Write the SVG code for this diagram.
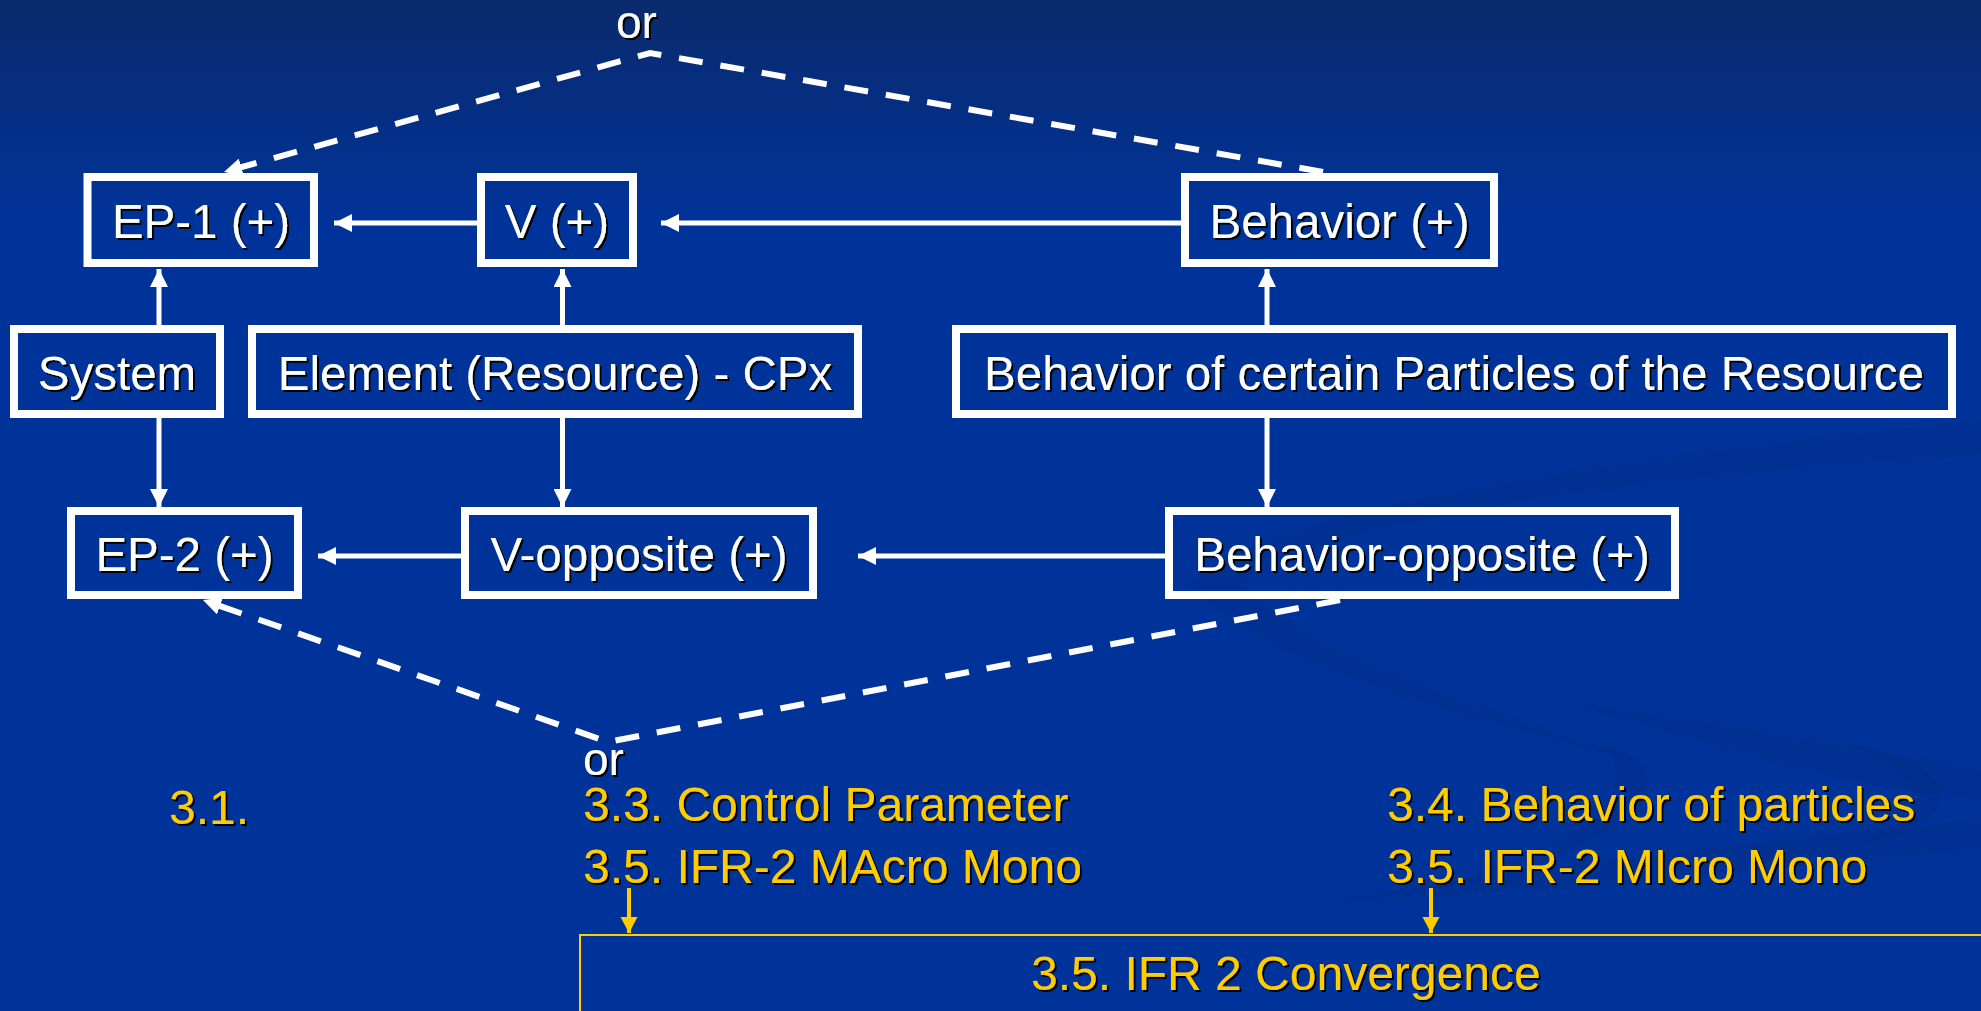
<svg xmlns="http://www.w3.org/2000/svg" width="1981" height="1011" viewBox="0 0 1981 1011">
  <defs>
    <linearGradient id="bg" x1="0" y1="0" x2="0" y2="1">
      <stop offset="0" stop-color="#0a2a6c"/>
      <stop offset="0.22" stop-color="#003399"/>
      <stop offset="1" stop-color="#003399"/>
    </linearGradient>
    <filter id="shadow" x="-5%" y="-20%" width="110%" height="140%">
      <feDropShadow dx="2" dy="2" stdDeviation="0" flood-color="#000000" flood-opacity="1"/>
    </filter>
    <marker id="head" markerUnits="userSpaceOnUse" markerWidth="20" markerHeight="18" refX="18" refY="9" orient="auto">
      <path d="M0,0 L18,9 L0,18 Z" fill="#ffffff"/>
    </marker>
    <marker id="headY" markerUnits="userSpaceOnUse" markerWidth="18" markerHeight="18" refX="16" refY="9" orient="auto">
      <path d="M0,0.5 L16,9 L0,17.5 Z" fill="#ffcc00"/>
    </marker>
    <style>
      .box { fill: none; stroke: #ffffff; stroke-width: 8; }
      .lbl { font-family: "Liberation Sans", Arial, sans-serif; font-size: 47.5px; fill: #ffffff; text-anchor: middle; }
      .or { font-family: "Liberation Sans", Arial, sans-serif; font-size: 46px; fill: #ffffff; }
      .note { font-family: "Liberation Sans", Arial, sans-serif; font-size: 48px; fill: #ffcc00; }
      .link { fill: none; stroke: #ffffff; stroke-width: 5; marker-end: url(#head); }
      .dash { fill: none; stroke: #ffffff; stroke-width: 6; stroke-dasharray: 24 18; marker-end: url(#head); }
      .ylink { fill: none; stroke: #ffcc00; stroke-width: 4; marker-end: url(#headY); }
      .swoosh { fill: #002a85; opacity: 0.35; }
    </style>
  </defs>

  <!-- backdrop -->
  <rect x="0" y="0" width="1981" height="1011" fill="url(#bg)"/>
  <g id="backdrop-swooshes">
    <path class="swoosh" d="M1190,585 C1250,520 1500,470 1981,420 L1981,455 C1600,480 1330,520 1240,585 C1300,640 1420,690 1640,760 C1450,720 1260,660 1190,585 Z"/>
    <path class="swoosh" d="M1560,700 C1700,720 1880,750 1981,770 L1981,800 C1860,790 1700,745 1560,700 Z"/>
    <path class="swoosh" d="M1300,905 C1500,870 1750,840 1981,820 L1981,850 C1750,870 1500,895 1300,905 Z"/>
    <path class="swoosh" d="M1600,742 C1680,760 1680,840 1430,890 C1620,830 1640,780 1600,742 Z"/>
    <path class="swoosh" d="M1840,742 C1960,760 1980,820 1865,842 C1940,810 1930,770 1840,742 Z"/>
  </g>

  <!-- connectors -->
  <g id="connectors">
    <line class="link" x1="477" y1="223" x2="334" y2="223"/>
    <line class="link" x1="1181" y1="223" x2="661" y2="223"/>
    <line class="link" x1="159" y1="325" x2="159" y2="269"/>
    <line class="link" x1="562.5" y1="325" x2="562.5" y2="269"/>
    <line class="link" x1="1267" y1="325" x2="1267" y2="269"/>
    <line class="link" x1="159" y1="418" x2="159" y2="507"/>
    <line class="link" x1="562.5" y1="418" x2="562.5" y2="507"/>
    <line class="link" x1="1267" y1="418" x2="1267" y2="507"/>
    <line class="link" x1="461" y1="556" x2="318" y2="556"/>
    <line class="link" x1="1165" y1="556" x2="858" y2="556"/>
    <polyline class="dash" points="1323,172 650,53 224,172"/>
    <polyline class="dash" points="1340,600 608,742 203,600"/>
    <line class="ylink" x1="629" y1="888" x2="629" y2="933"/>
    <line class="ylink" x1="1431" y1="888" x2="1431" y2="933"/>
  </g>

  <!-- nodes -->
  <g id="ep1">
    <rect class="box" x="87.5" y="177" width="226.5" height="86"/>
    <text class="lbl" x="201" y="238" filter="url(#shadow)">EP-1 (+)</text>
  </g>
  <g id="v">
    <rect class="box" x="481" y="177" width="152" height="86"/>
    <text class="lbl" x="557" y="238" filter="url(#shadow)">V (+)</text>
  </g>
  <g id="behavior">
    <rect class="box" x="1185" y="177" width="309" height="86"/>
    <text class="lbl" x="1339.5" y="238" filter="url(#shadow)">Behavior (+)</text>
  </g>
  <g id="system">
    <rect class="box" x="14" y="329" width="206" height="85"/>
    <text class="lbl" x="117" y="390" filter="url(#shadow)">System</text>
  </g>
  <g id="element">
    <rect class="box" x="252" y="329" width="606" height="85"/>
    <text class="lbl" x="555" y="390" filter="url(#shadow)">Element (Resource) - CPx</text>
  </g>
  <g id="behavior-particles">
    <rect class="box" x="956" y="329" width="996" height="85"/>
    <text class="lbl" x="1454" y="390" filter="url(#shadow)">Behavior of certain Particles of the Resource</text>
  </g>
  <g id="ep2">
    <rect class="box" x="71" y="511" width="227" height="84"/>
    <text class="lbl" x="184.5" y="571" filter="url(#shadow)">EP-2 (+)</text>
  </g>
  <g id="v-opposite">
    <rect class="box" x="465" y="511" width="348" height="84"/>
    <text class="lbl" x="639" y="571" filter="url(#shadow)">V-opposite (+)</text>
  </g>
  <g id="behavior-opposite">
    <rect class="box" x="1169" y="511" width="506" height="84"/>
    <text class="lbl" x="1422" y="571" filter="url(#shadow)">Behavior-opposite (+)</text>
  </g>

  <!-- alternative markers -->
  <g id="or-labels" filter="url(#shadow)">
    <text class="or" x="616" y="38">or</text>
    <text class="or" x="583" y="775">or</text>
  </g>

  <!-- section notes -->
  <g id="notes" filter="url(#shadow)">
    <text class="note" x="169" y="824">3.1.</text>
    <text class="note" x="583" y="821">3.3. Control Parameter</text>
    <text class="note" x="583" y="883">3.5. IFR-2 MAcro Mono</text>
    <text class="note" x="1387" y="821">3.4. Behavior of particles</text>
    <text class="note" x="1387" y="883">3.5. IFR-2 MIcro Mono</text>
  </g>

  <g id="convergence">
    <rect x="580" y="935" width="1460" height="150" fill="none" stroke="#ffcc00" stroke-width="2"/>
    <text class="note" x="1031" y="990" filter="url(#shadow)">3.5. IFR 2 Convergence</text>
  </g>
</svg>
